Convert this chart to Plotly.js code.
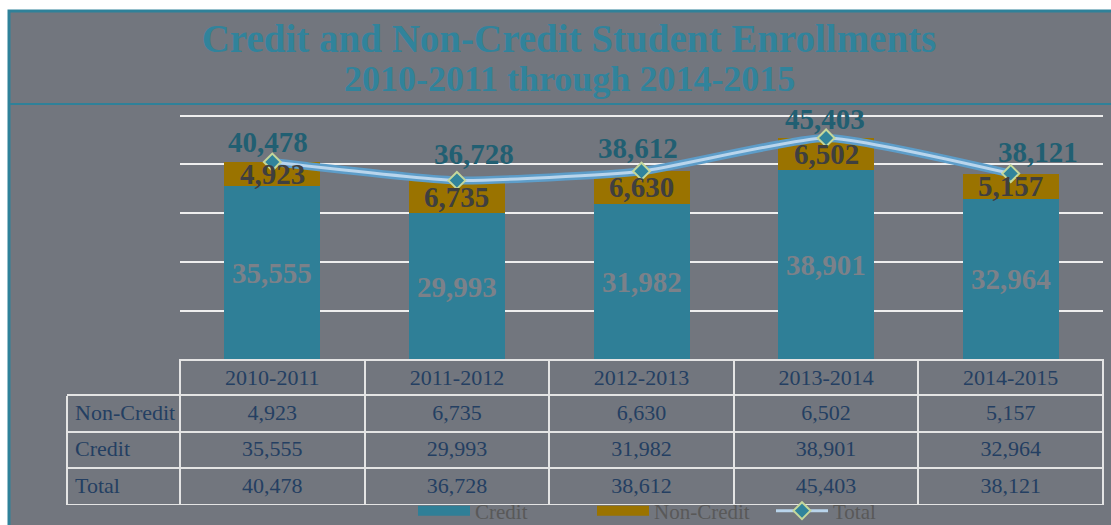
<!DOCTYPE html>
<html>
<head>
<meta charset="utf-8">
<script src="https://cdn.plot.ly/plotly-3.0.1.min.js"></script>
<style>
  html, body { margin: 0; padding: 0; background: #ffffff; }
  #chart { width: 1111px; height: 525px; }
</style>
</head>
<body>
<div id="chart"></div>
<script>
// ---- data ----
const categories = ['2010-2011', '2011-2012', '2012-2013', '2013-2014', '2014-2015'];
const credit     = [35555, 29993, 31982, 38901, 32964];
const nonCredit  = [4923, 6735, 6630, 6502, 5157];
const total      = [40478, 36728, 38612, 45403, 38121];
const rowLabels  = ['Non-Credit', 'Credit', 'Total'];
const seriesNames = ['Credit', 'Non-Credit', 'Total'];

// ---- style ----
const W = 1111, H = 525;
const M = { l: 67, r: 8, t: 113, b: 20, autoexpand: false };
const PW = W - M.l - M.r, PH = H - M.t - M.b;
const px2x = px => (px - M.l) / PW;
const px2y = py => 1 - (py - M.t) / PH;

const BG = '#72767e';
const TEAL = '#2f7f97';
const GOLD = '#9a7300';
const TITLE_C = '#31839b';
const GRIDC = '#e4e4e4';
const SERIF = '"Liberation Serif", "DejaVu Serif", serif';
const fmt = v => v.toLocaleString('en-US');

// y scale: 0 at 360px, 50000 at 115.5px
const Y_TOP = 50400;
const yTopPx = 360 - Y_TOP * (244.5 / 50000);

// per-label nudges of the Total labels (px)
const totalXShift = [-4, 17, -4, -1, 27];
const totalYShift = [20, 26, 23, 19, 22];

const traces = [
  {
    type: 'bar', name: seriesNames[0], x: categories, y: credit,
    marker: { color: TEAL }, width: 0.52, showlegend: false, hoverinfo: 'y'
  },
  {
    type: 'bar', name: seriesNames[1], x: categories, y: nonCredit,
    marker: { color: GOLD }, width: 0.52, showlegend: false, hoverinfo: 'y'
  },
  { // legend swatch for Credit
    type: 'scatter', mode: 'lines', name: seriesNames[0], x: [null], y: [null],
    line: { color: TEAL, width: 12 }, hoverinfo: 'skip'
  },
  { // legend swatch for Non-Credit
    type: 'scatter', mode: 'lines', name: seriesNames[1], x: [null], y: [null],
    line: { color: GOLD, width: 12 }, hoverinfo: 'skip'
  },
  {
    type: 'scatter', mode: 'lines', x: categories, y: total, showlegend: false,
    line: { color: '#5d9dc9', width: 8, shape: 'spline', smoothing: 0.5 }, hoverinfo: 'skip'
  },
  {
    type: 'scatter', mode: 'lines+markers', name: seriesNames[2], x: categories, y: total,
    line: { color: '#b9d5ec', width: 3, shape: 'spline', smoothing: 0.5 },
    marker: { symbol: 'diamond', size: 13, color: '#31849b', line: { color: '#c4d79b', width: 2 } }
  },
  {
    type: 'table',
    domain: { x: [0, 1], y: [px2y(505), px2y(360)] },
    columnwidth: [113].concat(categories.map(() => 184.6)),
    header: {
      values: [''].concat(categories),
      height: 35,
      align: 'center',
      fill: { color: BG },
      line: { color: [BG].concat(categories.map(() => GRIDC)), width: 2 },
      font: { family: SERIF, size: 22, color: '#243f62' }
    },
    cells: {
      values: [rowLabels].concat(categories.map((c, i) => [fmt(nonCredit[i]), fmt(credit[i]), fmt(total[i])])),
      height: 36.7,
      align: ['left'].concat(categories.map(() => 'center')),
      fill: { color: BG },
      line: { color: GRIDC, width: 2 },
      font: { family: SERIF, size: 22, color: '#243f62' }
    }
  }
];

const annotations = [];
categories.forEach((c, i) => {
  annotations.push({
    x: c, y: credit[i] / 2, xref: 'x', yref: 'y', text: fmt(credit[i]), showarrow: false,
    font: { family: SERIF, size: 29, color: '#7c8189', weight: 'bold' }
  });
  annotations.push({
    x: c, y: credit[i] + nonCredit[i] / 2, xref: 'x', yref: 'y', text: fmt(nonCredit[i]), showarrow: false,
    font: { family: SERIF, size: 29, color: '#3f3f3f', weight: 'bold' }
  });
  annotations.push({
    x: c, y: total[i], xref: 'x', yref: 'y', text: fmt(total[i]), showarrow: false,
    xshift: totalXShift[i], yshift: totalYShift[i],
    font: { family: SERIF, size: 29, color: '#215f72', weight: 'bold' }
  });
});
annotations.push({
  x: px2x(569), xref: 'paper', y: px2y(79), yref: 'paper', xanchor: 'center', yanchor: 'middle',
  text: '<b>2010-2011 through 2014-2015</b>', showarrow: false,
  font: { family: SERIF, size: 36, color: TITLE_C }
});

const layout = {
  width: W, height: H,
  margin: M,
  paper_bgcolor: '#ffffff',
  plot_bgcolor: 'rgba(0,0,0,0)',
  barmode: 'stack',
  title: {
    text: '<b>Credit and Non-Credit Student Enrollments</b>',
    x: 569 / W, xanchor: 'center', y: 1 - 38 / H, yanchor: 'middle', yref: 'container',
    font: { family: SERIF, size: 39, color: TITLE_C }
  },
  xaxis: {
    type: 'category', domain: [px2x(180), 1], range: [-0.5, 4.5],
    showticklabels: false, showgrid: false, zeroline: false, showline: false, ticks: ''
  },
  yaxis: {
    domain: [px2y(360), px2y(yTopPx)], range: [0, Y_TOP], dtick: 10000,
    showticklabels: false, showgrid: true, gridcolor: '#eeeeee', gridwidth: 2,
    zeroline: false, showline: false, ticks: ''
  },
  showlegend: true,
  legend: {
    orientation: 'h', x: px2x(413), xanchor: 'left', y: px2y(511), yanchor: 'middle',
    bgcolor: 'rgba(0,0,0,0)', itemwidth: 52, entrywidth: 112, traceorder: 'normal',
    font: { family: SERIF, size: 21, color: '#595959' }
  },
  shapes: [
    {
      type: 'rect', xref: 'paper', yref: 'paper', layer: 'below',
      x0: px2x(9), x1: px2x(1115), y0: px2y(11), y1: px2y(530),
      fillcolor: BG, line: { color: '#2f8199', width: 3 }
    },
    {
      type: 'line', xref: 'paper', yref: 'paper', layer: 'below',
      x0: px2x(9), x1: px2x(1111), y0: px2y(104), y1: px2y(104),
      line: { color: '#2f8199', width: 2 }
    },
    { // top edge of the row-label column (covered by the blank header cell)
      type: 'line', xref: 'paper', yref: 'paper', layer: 'above',
      x0: 0, x1: px2x(181), y0: px2y(395), y1: px2y(395),
      line: { color: GRIDC, width: 2 }
    }
  ],
  annotations: annotations
};

Plotly.newPlot('chart', traces, layout, { displayModeBar: false, staticPlot: true });
</script>
</body>
</html>
